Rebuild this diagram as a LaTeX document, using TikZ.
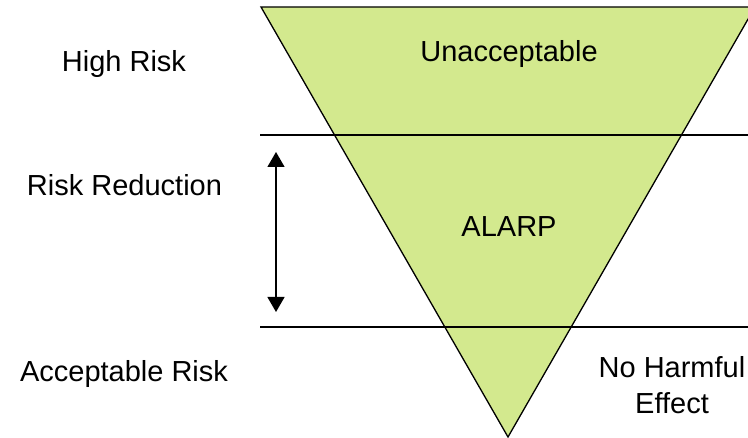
\documentclass[tikz,border=0pt]{standalone}
\usepackage{fontspec}
\setmainfont{Liberation Sans}
\usepackage{tikz}
\usetikzlibrary{arrows.meta}
\definecolor{zone}{HTML}{D3E98E}

\begin{document}
\begin{tikzpicture}[
  x=1pt, y=-1pt,
  font=\fontsize{29}{36}\selectfont,
  label/.style={inner sep=0pt, anchor=base, align=center},
  band/.style={draw=black, line width=1.1pt},
  arrow/.style={{Triangle[length=15pt,width=17pt]}-{Triangle[length=15pt,width=17pt]}, line width=1.3pt}
]
\useasboundingbox (0,0) rectangle (748,438);
\clip (0,0) rectangle (748,438);

% inverted risk triangle
\draw[fill=zone, line width=1.3pt, line join=miter] (261,7) -- (755,7) -- (508,437) -- cycle;

% band boundaries
\draw[band] (260,135) -- (748,135);
\draw[band] (260,327) -- (748,327);

% risk levels on the left
\node[label] (high) at (124,72) {High Risk};
\node[label] (reduce) at (124.5,196) {Risk Reduction};
\node[label] (accept) at (124,382) {Acceptable Risk};

% zones inside the triangle
\node[label] (unacc) at (509,62) {Unacceptable};
\node[label] (alarp) at (509,237) {ALARP};
\node[inner sep=0pt, align=center] (noharm) at (672,385) {No Harmful\\Effect};

% reduction range
\coordinate (rtop) at (276,152);
\coordinate (rbot) at (276,312);
\draw[arrow] (rtop) -- (rbot);

\end{tikzpicture}
\end{document}
